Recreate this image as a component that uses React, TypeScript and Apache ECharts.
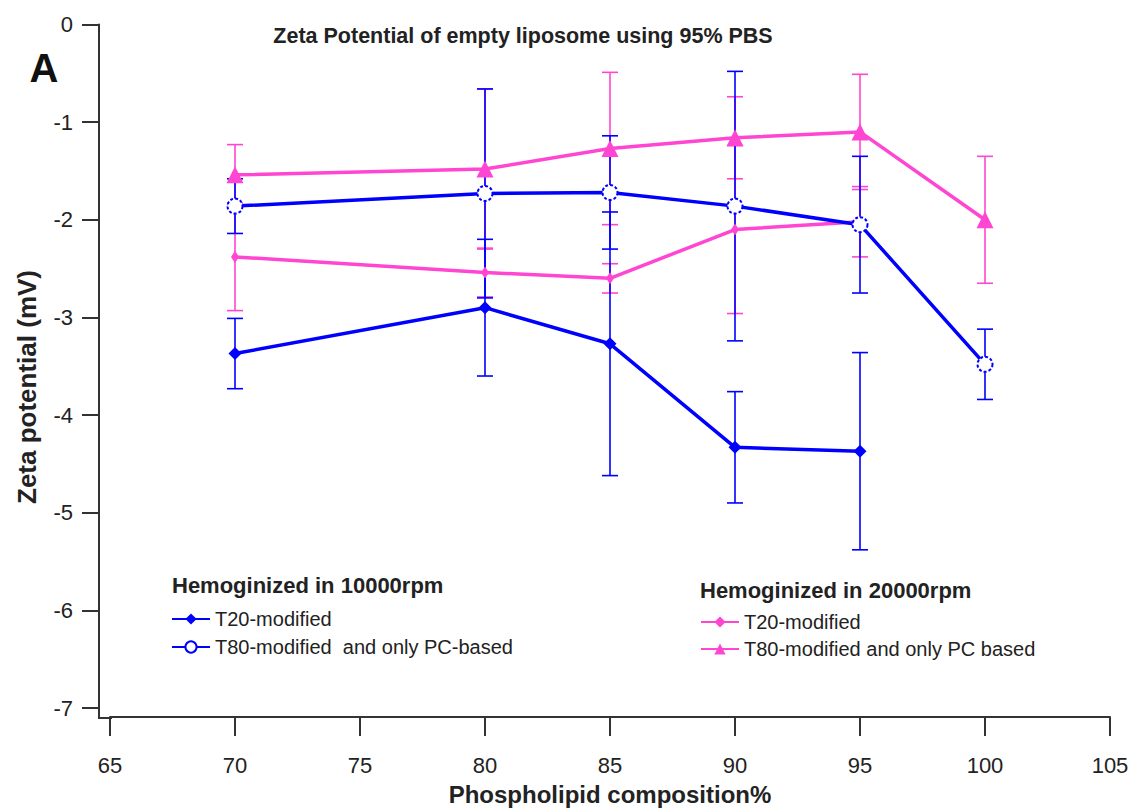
import React, { useEffect, useRef } from "react";
import * as echarts from "echarts";

const FONT = "'Liberation Sans', Arial, sans-serif";
const BLUE = "#0000ff";
const PINK = "#ff46d2";

const TITLE = "Zeta Potential of empty liposome using 95% PBS";
const PANEL = "A";
const X_NAME = "Phospholipid composition%";
const Y_NAME = "Zeta potential (mV)";
const HEAD_10K = "Hemoginized in 10000rpm";
const HEAD_20K = "Hemoginized in 20000rpm";

const NAME_B20 = "T20-modified";
const NAME_B80 = "T80-modified  and only PC-based";
const NAME_P20 = "T20-modified (20000rpm)";
const NAME_P80 = "T80-modified and only PC based";

// x positions (phospholipid composition %)
const xShort = [70, 80, 85, 90, 95];
const xLong = [70, 80, 85, 90, 95, 100];

// Hemoginized in 10000rpm
const blueT20 = [-3.37, -2.9, -3.27, -4.33, -4.37];
const blueT20Err = [0.36, 0.7, 1.35, 0.57, 1.01];
const blueT80 = [-1.86, -1.73, -1.72, -1.86, -2.05, -3.48];
const blueT80Err = [0.28, 1.07, 0.58, 1.38, 0.7, 0.36];

// Hemoginized in 20000rpm
const pinkT20 = [-2.38, -2.54, -2.6, -2.1, -2.02];
const pinkT20Err = [0.55, 0.25, 0.15, 0.86, 0.36];
const pinkT80 = [-1.54, -1.48, -1.27, -1.16, -1.1, -2.0];
const pinkT80Err = [0.31, 0.82, 0.78, 0.42, 0.59, 0.65];

const pts = (xs: number[], ys: number[]) => xs.map((x, i) => [x, ys[i]]);
const errs = (xs: number[], ys: number[], es: number[]) =>
  xs.map((x, i) => [x, ys[i] - es[i], ys[i] + es[i]]);

const errRender = (color: string) => (params: any, api: any) => {
  const x = api.value(0);
  const lo = api.coord([x, api.value(1)]);
  const hi = api.coord([x, api.value(2)]);
  const w = 8;
  const style = { stroke: color, lineWidth: 1.6, fill: "none" };
  return {
    type: "group",
    children: [
      { type: "line", shape: { x1: lo[0], y1: lo[1], x2: hi[0], y2: hi[1] }, style },
      { type: "line", shape: { x1: lo[0] - w, y1: lo[1], x2: lo[0] + w, y2: lo[1] }, style },
      { type: "line", shape: { x1: hi[0] - w, y1: hi[1], x2: hi[0] + w, y2: hi[1] }, style },
    ],
  };
};

const errSeries = (color: string, data: number[][]) => ({
  type: "custom",
  renderItem: errRender(color),
  data,
  encode: { x: 0, y: [1, 2] },
  z: 2,
  silent: true,
});

export default function App() {
  const ref = useRef<HTMLDivElement>(null);
  useEffect(() => {
    document.body.style.margin = "0";
    const chart = echarts.init(ref.current!, undefined, { renderer: "svg" });
    const axisColor = "#333";
    chart.setOption({
      animation: false,
      backgroundColor: "#fff",
      textStyle: { fontFamily: FONT },
      grid: { left: 110, right: 22, top: 24.5, bottom: 102 },
      xAxis: {
        type: "value",
        min: 65,
        max: 105,
        interval: 5,
        offset: 9,
        splitLine: { show: false },
        axisLine: { show: true, onZero: false, lineStyle: { color: axisColor, width: 2 } },
        axisTick: { show: true, length: 19, lineStyle: { color: axisColor, width: 2 } },
        axisLabel: { fontSize: 22, color: "#222", margin: 37, fontFamily: FONT },
        name: X_NAME,
        nameLocation: "middle",
        nameGap: 65,
        nameTextStyle: { fontSize: 24, fontWeight: "bold", color: "#222", fontFamily: FONT },
      },
      yAxis: {
        type: "value",
        min: -7,
        max: 0,
        interval: 1,
        offset: 11,
        splitLine: { show: false },
        axisLine: { show: true, onZero: false, lineStyle: { color: axisColor, width: 2 } },
        axisTick: { show: true, length: 17, lineStyle: { color: axisColor, width: 2 } },
        axisLabel: { fontSize: 22, color: "#222", margin: 26, fontFamily: FONT },
      },
      legend: [
        {
          data: [NAME_B20, NAME_B80],
          orient: "vertical",
          left: 166,
          top: 604,
          itemWidth: 38,
          itemHeight: 14,
          itemGap: 8,
          textStyle: { fontSize: 20, color: "#222", fontFamily: FONT },
          selectedMode: false,
        },
        {
          data: [NAME_P20, NAME_P80],
          orient: "vertical",
          left: 695,
          top: 607,
          itemWidth: 38,
          itemHeight: 14,
          itemGap: 7,
          textStyle: { fontSize: 20, color: "#222", fontFamily: FONT },
          selectedMode: false,
          formatter: (n: string) => (n === NAME_P20 ? "T20-modified" : n),
        },
      ],
      graphic: [
        { type: "line", shape: { x1: 99, y1: 700, x2: 99, y2: 719 }, style: { stroke: axisColor, lineWidth: 2 } },
        { type: "line", shape: { x1: 98, y1: 718, x2: 112, y2: 718 }, style: { stroke: axisColor, lineWidth: 2 } },
        {
          type: "text", x: 523, y: 36,
          style: { text: TITLE, fontSize: 21.5, fontWeight: "bold", fill: "#222", align: "center", verticalAlign: "middle", fontFamily: FONT },
        },
        {
          type: "text", x: 44, y: 68,
          style: { text: PANEL, fontSize: 40, fontWeight: "bold", fill: "#111", align: "center", verticalAlign: "middle", fontFamily: FONT },
        },
        {
          type: "text", x: 27, y: 387, rotation: Math.PI / 2,
          style: { text: Y_NAME, fontSize: 26, fontWeight: "bold", fill: "#222", align: "center", verticalAlign: "middle", fontFamily: FONT },
        },
        {
          type: "text", x: 172, y: 585,
          style: { text: HEAD_10K, fontSize: 22, fontWeight: "bold", fill: "#222", align: "left", verticalAlign: "middle", fontFamily: FONT },
        },
        {
          type: "text", x: 700, y: 590,
          style: { text: HEAD_20K, fontSize: 22, fontWeight: "bold", fill: "#222", align: "left", verticalAlign: "middle", fontFamily: FONT },
        },
      ],
      series: [
        errSeries(PINK, errs(xLong, pinkT80, pinkT80Err)),
        errSeries(PINK, errs(xShort, pinkT20, pinkT20Err)),
        errSeries(BLUE, errs(xLong, blueT80, blueT80Err)),
        errSeries(BLUE, errs(xShort, blueT20, blueT20Err)),
        {
          name: NAME_P80, type: "line", data: pts(xLong, pinkT80), z: 3,
          symbol: "triangle", symbolSize: 17,
          lineStyle: { color: PINK, width: 3.5 }, itemStyle: { color: PINK },
        },
        {
          name: NAME_P20, type: "line", data: pts(xShort, pinkT20), z: 3,
          symbol: "diamond", symbolSize: [8, 12],
          lineStyle: { color: PINK, width: 3.5 }, itemStyle: { color: PINK },
        },
        {
          name: NAME_B80, type: "line", data: pts(xLong, blueT80), z: 4,
          symbol: "emptyCircle", symbolSize: 15,
          lineStyle: { color: BLUE, width: 3.5 },
          itemStyle: { color: BLUE, borderColor: BLUE, borderWidth: 1.5, borderType: [3, 2] },
        },
        {
          name: NAME_B20, type: "line", data: pts(xShort, blueT20), z: 4,
          symbol: "diamond", symbolSize: 13,
          lineStyle: { color: BLUE, width: 3.5 }, itemStyle: { color: BLUE },
        },
      ],
    });
    return () => chart.dispose();
  }, []);
  return <div ref={ref} style={{ position: "fixed", left: 0, top: 0, width: 1132, height: 811 }} />;
}
